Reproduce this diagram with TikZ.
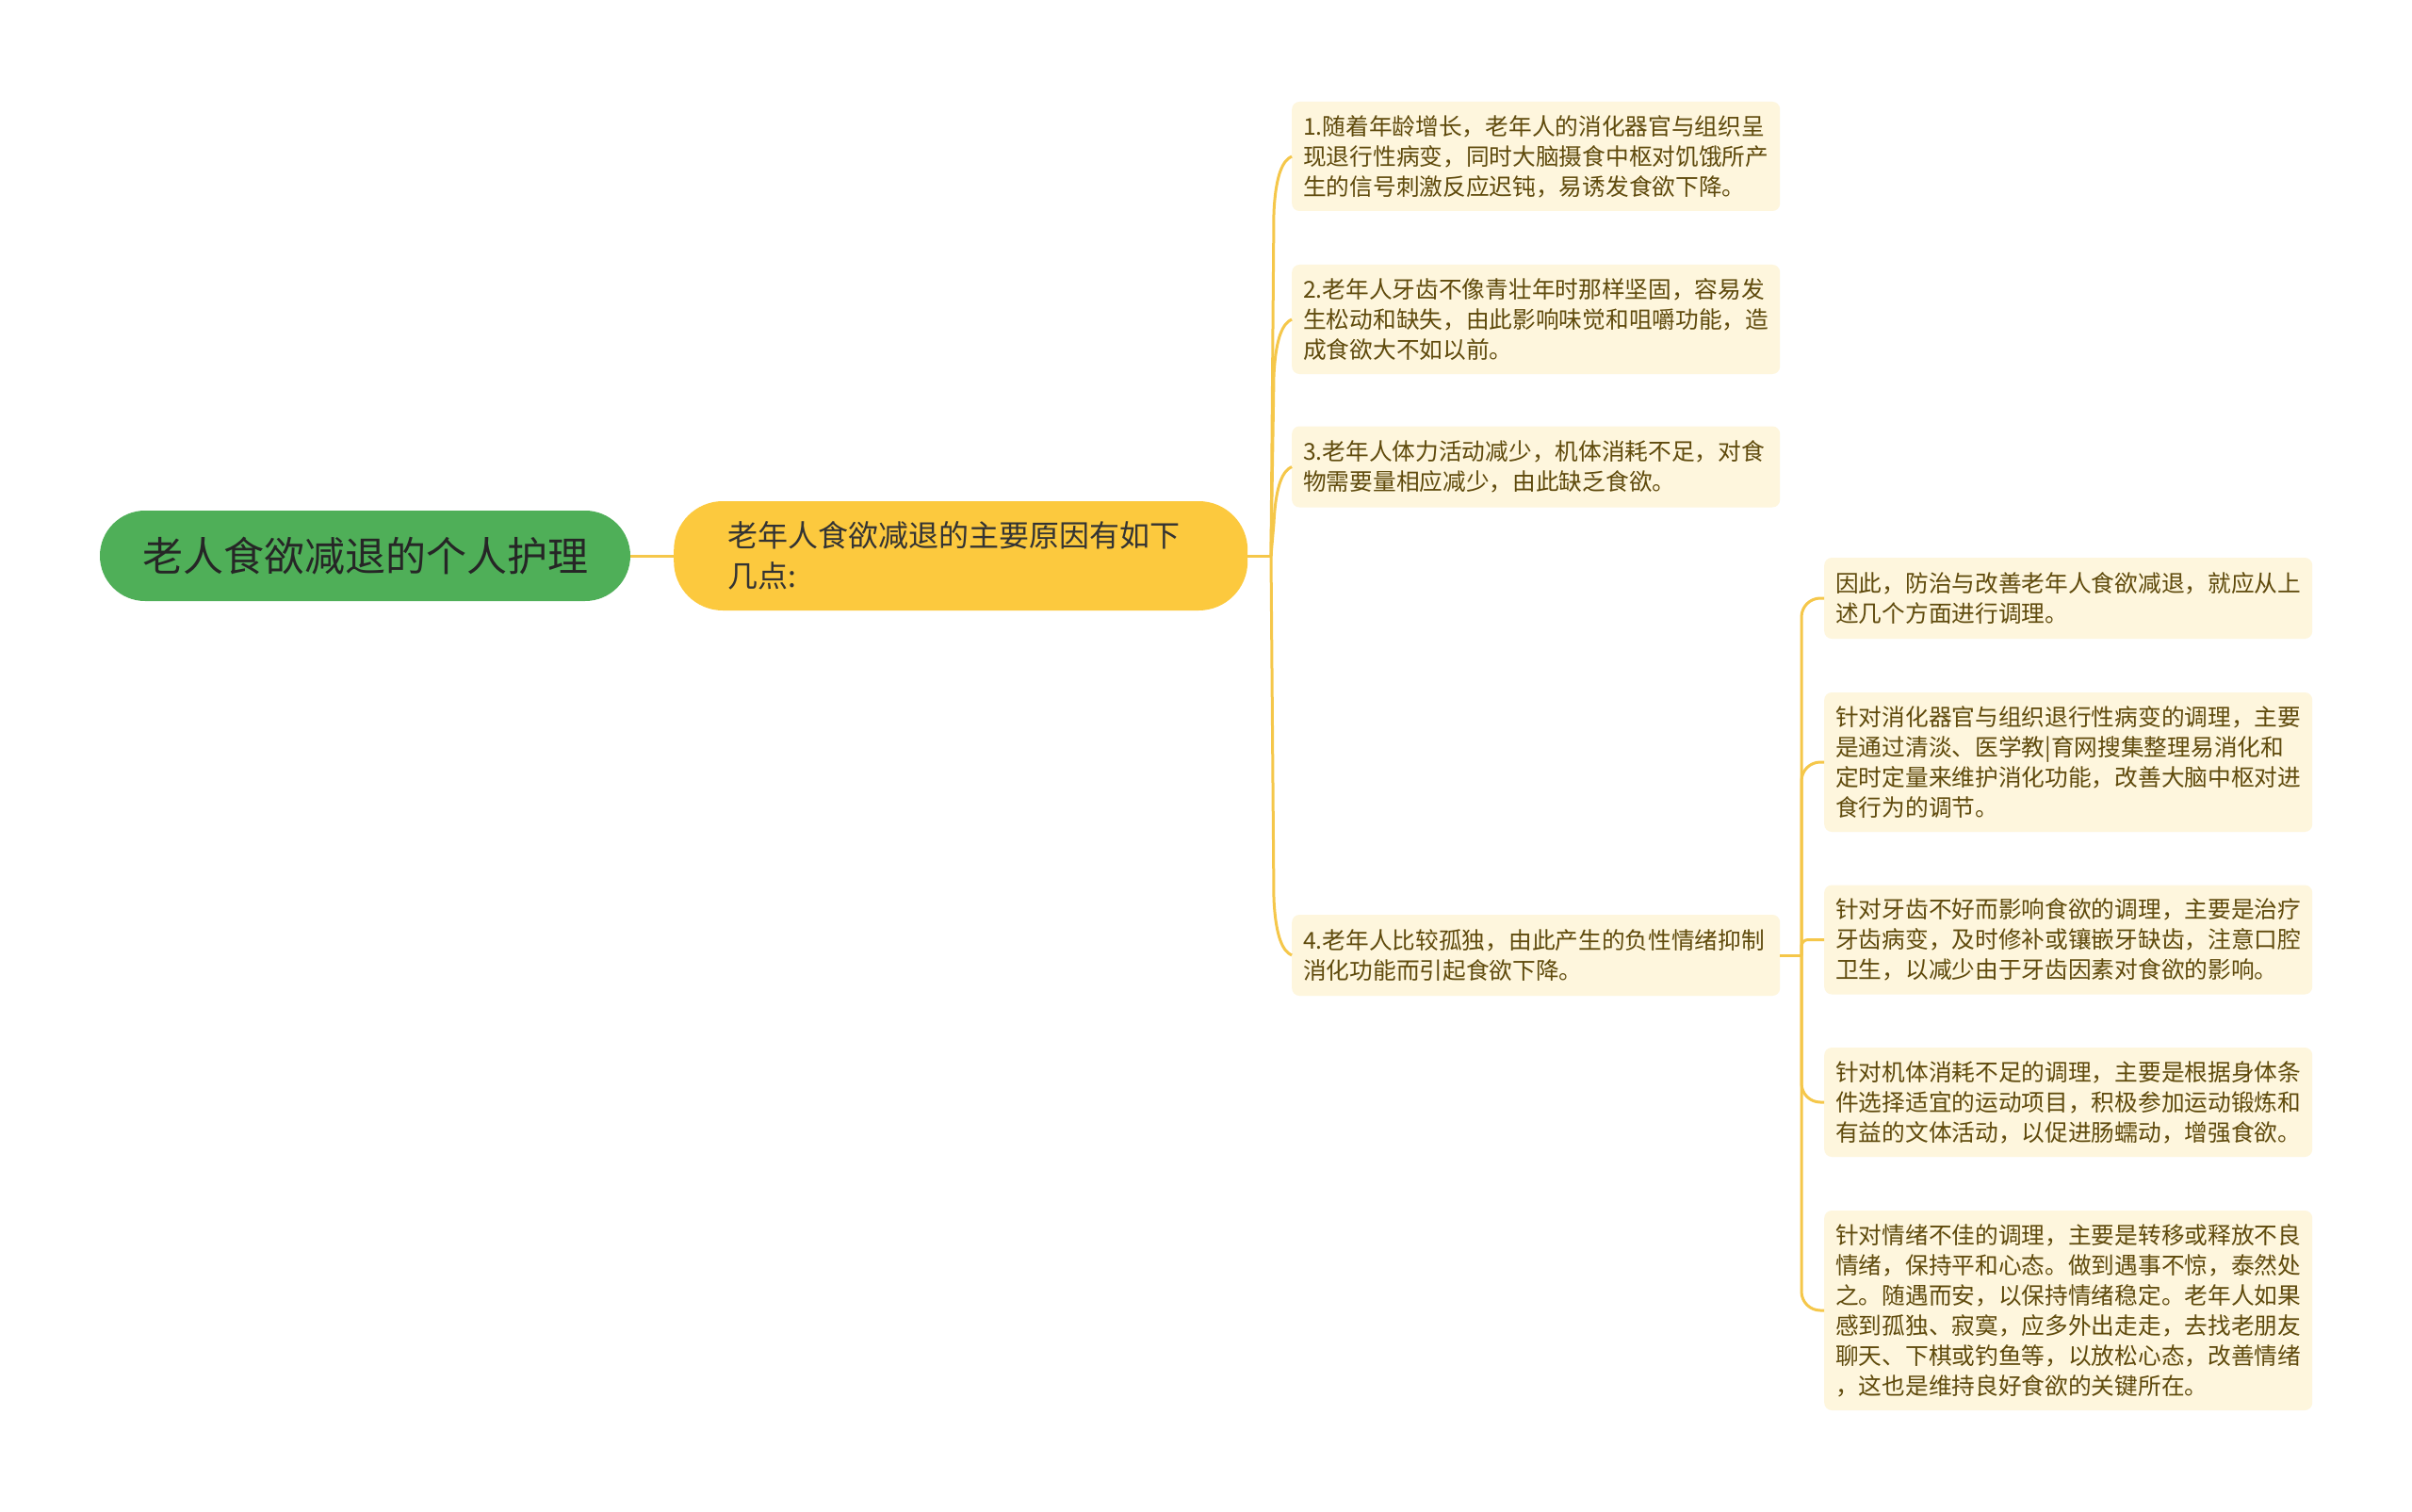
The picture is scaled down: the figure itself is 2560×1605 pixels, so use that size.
\documentclass[tikz,border=0pt]{standalone}
\usepackage{fontspec}
\setmainfont{Noto Sans CJK SC}
\usetikzlibrary{calc}
\definecolor{rootgreen}{HTML}{4FAF58}
\definecolor{roottext}{HTML}{262626}
\definecolor{mainyellow}{HTML}{FCC93E}
\definecolor{maintext}{HTML}{333333}
\definecolor{leaffill}{HTML}{FEF6DD}
\definecolor{leaftext}{HTML}{5F4A0C}
\definecolor{linec}{HTML}{F5C74A}
\begin{document}
\begin{tikzpicture}[x=1pt,y=-1pt,
  conn/.style={draw=linec, line width=3pt},
  branchline/.style={draw=linec, line width=3pt, rounded corners=20pt},
  rootnode/.style={fill=rootgreen, rounded corners=48pt, minimum width=563pt, minimum height=96pt,
    inner sep=0pt, text=roottext, font=\fontsize{43pt}{50pt}\selectfont},
  mainnode/.style={anchor=west, fill=mainyellow, rounded corners=52pt, minimum width=609pt,
    minimum height=116pt, text width=494pt, inner xsep=57.5pt, inner ysep=4pt, align=left,
    text=maintext, font=\fontsize{32pt}{43pt}\selectfont},
  leaf/.style={anchor=west, fill=leaffill, rounded corners=8pt, text width=494pt,
    inner xsep=12pt, inner ysep=4pt, align=left, text=leaftext,
    font=\fontsize{24.7pt}{32pt}\selectfont},
  three/.style={minimum height=116pt},
  two/.style={minimum height=86pt},
  four/.style={minimum height=148pt},
  six/.style={minimum height=212pt}]
\useasboundingbox[fill=white] (0,0) rectangle (2560,1605);

\node[rootnode] (root) at (387.5,590) {老人食欲减退的个人护理};
\node[mainnode] (main) at (715,590) {老年人食欲减退的主要原因有如下\\几点:};

\node[leaf,three] (l1) at (1371,166) {1.随着年龄增长，老年人的消化器官与组织呈\\现退行性病变，同时大脑摄食中枢对饥饿所产\\生的信号刺激反应迟钝，易诱发食欲下降。};
\node[leaf,three] (l2) at (1371,339) {2.老年人牙齿不像青壮年时那样坚固，容易发\\生松动和缺失，由此影响味觉和咀嚼功能，造\\成食欲大不如以前。};
\node[leaf,two] (l3) at (1371,495.5) {3.老年人体力活动减少，机体消耗不足，对食\\物需要量相应减少，由此缺乏食欲。};
\node[leaf,two] (l4) at (1371,1014) {4.老年人比较孤独，由此产生的负性情绪抑制\\消化功能而引起食欲下降。};

\node[leaf,two] (r1) at (1936,635) {因此，防治与改善老年人食欲减退，就应从上\\述几个方面进行调理。};
\node[leaf,four] (r2) at (1936,809) {针对消化器官与组织退行性病变的调理，主要\\是通过清淡、医学教|育网搜集整理易消化和\\定时定量来维护消化功能，改善大脑中枢对进\\食行为的调节。};
\node[leaf,three] (r3) at (1936,997.5) {针对牙齿不好而影响食欲的调理，主要是治疗\\牙齿病变，及时修补或镶嵌牙缺齿，注意口腔\\卫生，以减少由于牙齿因素对食欲的影响。};
\node[leaf,three] (r4) at (1936,1170) {针对机体消耗不足的调理，主要是根据身体条\\件选择适宜的运动项目，积极参加运动锻炼和\\有益的文体活动，以促进肠蠕动，增强食欲。};
\node[leaf,six] (r5) at (1936,1391) {针对情绪不佳的调理，主要是转移或释放不良\\情绪，保持平和心态。做到遇事不惊，泰然处\\之。随遇而安，以保持情绪稳定。老年人如果\\感到孤独、寂寞，应多外出走走，去找老朋友\\聊天、下棋或钓鱼等，以放松心态，改善情绪\\，这也是维持良好食欲的关键所在。};

\coordinate (s1) at (1349,590);
\coordinate (s2) at (1912,1014);

\draw[conn] (root.east) -- (main.west);
\draw[conn] (main.east) -- (s1);
\foreach \n/\a/\b/\c in {l1/60/18/4,l2/60/18/4,l3/60/18/4,l4/-60/-18/-4}
  \draw[conn] (s1) -- ($(s1|-\n.west)+(3,\a)$)
    .. controls ($(s1|-\n.west)+(5,\b)$) and ($(\n.west)+(-9,\c)$) .. (\n.west);
\draw[conn] (l4.east) -- (s2);
\foreach \n in {r1,r2,r4,r5} \draw[branchline] (s2) |- (\n.west);
\draw[conn, rounded corners=7pt] (s2) |- (r3.west);
\end{tikzpicture}
\end{document}
